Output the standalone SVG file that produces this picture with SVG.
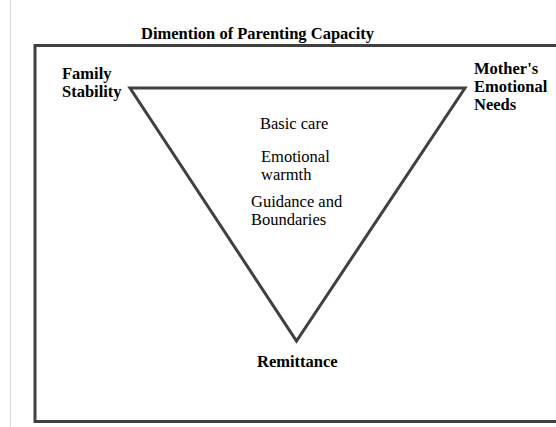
<svg xmlns="http://www.w3.org/2000/svg" width="556" height="427" viewBox="0 0 556 427">
  <style>
    .lbl { font-family: "Liberation Serif", "Times New Roman", serif; font-size: 16.5px; fill: #000; }
    .b { font-weight: bold; }
    .frame { fill: none; stroke: #404040; stroke-width: 3; }
  </style>
  <rect x="0" y="0" width="556" height="427" fill="#fff"/>
  <!-- page margin rule -->
  <line x1="10.5" y1="0" x2="10.5" y2="427" stroke="#d8d8d8" stroke-width="1"/>

  <g id="title">
    <text class="lbl b" x="141" y="38.5">Dimention of Parenting Capacity</text>
  </g>

  <g id="frame">
    <path class="frame" d="M 560 45.5 L 35 45.5 L 35 421.5 L 560 421.5" stroke-linejoin="miter"/>
  </g>

  <g id="connectors">
    <polygon class="frame" points="130,88 465,88 296.5,341" stroke-linejoin="miter"/>
  </g>

  <g id="family-stability">
    <text class="lbl b" x="62" y="79">Family</text>
    <text class="lbl b" x="62" y="96.5">Stability</text>
  </g>

  <g id="mothers-needs">
    <text class="lbl b" x="474" y="73.5">Mother's</text>
    <text class="lbl b" x="474" y="91.5">Emotional</text>
    <text class="lbl b" x="474" y="109.5">Needs</text>
  </g>

  <g id="remittance">
    <text class="lbl b" x="257" y="366.5">Remittance</text>
  </g>

  <g id="basic-care">
    <text class="lbl" x="260" y="128.5">Basic care</text>
  </g>

  <g id="emotional-warmth">
    <text class="lbl" x="261" y="161.5">Emotional</text>
    <text class="lbl" x="261" y="179.5">warmth</text>
  </g>

  <g id="guidance">
    <text class="lbl" x="251" y="206.5">Guidance and</text>
    <text class="lbl" x="251" y="224.5">Boundaries</text>
  </g>
</svg>
